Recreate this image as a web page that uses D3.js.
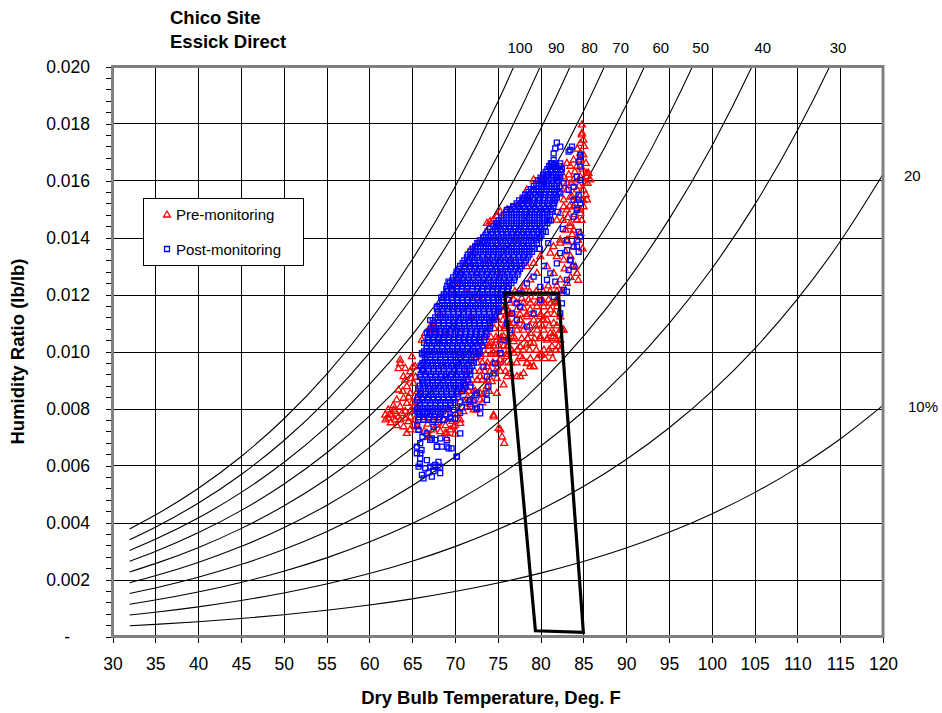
<!DOCTYPE html>
<html lang="en">
<head>
<meta charset="UTF-8">
<title>Chico Site - Essick Direct</title>
<style>
  body { margin: 0; background: #fff; }
  svg text { font-family: "Liberation Sans", Arial, sans-serif; fill: #000; }
  .grid line { stroke: #000; stroke-width: 1; shape-rendering: crispEdges; }
  .rh { fill: none; stroke: #000; stroke-width: 1.1; }
  .axis path { display: none; }
  .axis line { stroke: #000; shape-rendering: crispEdges; }
  .axis text { font-size: 17.5px; }
  .rhlabel { font-size: 15px; }
  .title { font-size: 18.5px; font-weight: bold; }
</style>
</head>
<body>
<div id="chart"></div>
<script src="https://cdn.jsdelivr.net/npm/d3@7/dist/d3.min.js"></script>
<script>
// dry bulb temps (F) and saturation pressure (psia) used for the RH curves
const tempF = [32, 35, 40, 45, 50, 55, 60, 65, 70, 75, 80, 85, 90, 95, 100, 105, 110, 115, 120];
const satPress = [0.08865, 0.09998, 0.12173, 0.14756, 0.17812, 0.21413, 0.25638, 0.30578, 0.36334,
  0.43016, 0.50745, 0.59659, 0.69904, 0.81643, 0.95052, 1.1032, 1.2767, 1.4731, 1.6951];
const baroPress = 14.696;
const rhLevels = [100, 90, 80, 70, 60, 50, 40, 30, 20, 10];
const rhLabels = ["100", "90", "80", "70", "60", "50", "40", "30", "20", "10%"];
// label nudge (px) from the curve end
const rhLabelDx = [7, 16, 20, 17, 17, 9, 11, 9, 21, 25];

const xTicks = d3.range(30, 121, 5);
const yTicks = [0, 2, 4, 6, 8, 10, 12, 14, 16, 18, 20];   // humidity ratio x 1000

// comfort zone box [T, W x1000]
const comfortZone = [[75.8, 12.05], [82.1, 12.05], [85.0, 0.15], [79.4, 0.2]];

// Pre-monitoring points [T, W x1000]
const preMon = [
  // left lobe
  [61.85,7.77],[62.24,7.66],[62.63,7.77],[63.02,7.6],[63.41,7.71],[63.8,7.83],[64.19,7.66],[64.58,7.54],
  [62.83,7.95],[63.6,8.06],[64.4,8.18],[64.0,8.36],[64.77,8.53],[63.41,8.65],[64.38,8.77],[65.16,8.88],
  [63.99,9.12],[64.77,9.29],[63.6,9.58],[64.19,9.41],[65.36,9.47],[64.97,9.82],[65.75,7.25],[64.77,7.25],
  [64.38,7.13],[65.16,7.42],[65.5,7.95],[65.0,8.2],[62.2,7.95],[61.9,7.6],[63.2,8.3],[64.8,7.9],
  [65.6,8.6],[65.4,9.1],[63.4,9.4],[62.8,8.1],[64.0,7.36],[65.56,7.36],[66.33,7.6],[63.6,9.7],[65.1,9.46],
  [62.5,7.5],[63.0,7.9],[63.6,7.6],[64.2,7.9],[64.8,7.7],[65.3,7.6],[65.3,8.1],[64.6,8.4],[63.9,8.6],
  [64.2,9.0],[64.9,9.05],[65.5,8.35],[63.2,7.4],[62.4,7.8],
  // lower strip
  [66.72,7.13],[67.5,7.25],[68.28,7.19],[68.86,7.13],[69.45,7.25],[70.03,7.42],[70.62,7.6],[70.23,7.77],
  [71.0,7.89],[71.4,8.06],[68.67,7.6],[67.89,7.42],[69.25,7.95],[67.11,7.77],[68.28,7.83],[70.62,8.24],
  [72.17,8.24],[72.95,8.53],[73.73,8.77],[74.3,8.94],[74.9,9.06],[75.68,8.83],[74.51,7.77],[75.1,7.3],
  [75.5,7.0],[75.76,6.78],[67.0,7.0],[69.0,6.95],[70.0,7.1],[71.5,8.4],[72.5,7.95],[73.2,8.2],
  [69.06,7.13],[69.84,7.36],[70.62,7.48],[72.18,7.95],[72.96,8.3],[74.52,7.71],[75.3,7.25],[74.9,8.53],
  [72.95,9.12],[71.8,8.88],[71.0,8.65],[71.8,9.7],[72.56,9.94],[73.34,10.17],
  [66.8,7.45],[67.4,7.6],[68.0,7.5],[68.9,7.4],[69.7,7.55],[70.4,7.95],[71.1,8.2],[71.8,8.15],
  [72.4,8.6],[73.3,8.5],[74.0,8.6],[66.4,7.2],
  // band right of the core
  [72.3,9.3],[72.9,9.3],[73.5,9.3],[74.1,9.3],[74.7,9.3],[75.3,9.3],[75.9,9.3],
  [72.6,9.6],[73.2,9.6],[73.8,9.6],[74.4,9.6],[75.0,9.6],[75.6,9.6],[76.5,9.6],[77.2,9.6],
  [73.0,9.9],[73.6,9.9],[74.2,9.9],[74.8,9.9],[75.4,9.9],[76.0,9.9],
  [73.3,10.2],[73.9,10.2],[74.5,10.2],[75.1,10.2],[75.7,10.2],
  [73.6,10.5],[74.2,10.5],[74.8,10.5],[75.4,10.5],
  [74.0,10.8],[74.6,10.8],[75.2,10.8],[75.8,10.8],
  [74.4,11.1],[75.0,11.1],[75.6,11.1],[76.2,11.1],[75.0,11.4],[75.6,11.4],[76.2,11.4],
  [71.4,9.0],[72.0,9.0],[72.6,9.0],[73.2,9.0],[73.8,9.0],[71.0,8.6],[71.6,8.6],[72.2,8.6],
  // lobe under the box top
  [76.07,9.12],[77.63,9.12],[78.41,9.59],[79.19,9.47],[79.97,9.88],[81.14,9.94],[82.3,10.05],[81.92,10.4],
  [81.53,10.64],[82.3,10.75],[78.8,10.29],[76.85,10.52],[75.3,10.4],[74.13,10.29],[72.96,9.82],[71.4,9.35],
  [67.11,10.75],[80.36,11.1],[77.63,11.1],[76.07,10.87],
  [73.73,9.47],[74.51,9.58],[75.29,9.7],[76.07,9.82],[76.85,9.94],[77.63,9.82],[78.41,9.58],[79.19,9.47],
  [80.16,9.88],[82.1,10.17],[79.19,10.29],[78.4,10.23],[77.6,10.17],[76.85,10.35],[76.07,10.17],
  [75.29,10.05],[74.5,9.94],[74.12,10.17],[74.9,10.4],[75.68,10.52],[76.46,10.64],[77.24,10.75],
  [78.02,10.75],[78.8,10.64],[79.6,10.75],[80.36,10.75],[81.14,10.64],[81.5,10.52],[82.3,10.4],
  [82.5,10.75],[79.97,10.52],[76.85,10.99],[77.63,11.1],[78.4,11.22],[79.19,11.1],[79.97,11.22],
  [80.75,11.1],[81.53,10.99],[76.46,11.34],[77.24,11.46],[78.02,11.52],[78.8,11.46],[79.58,11.57],
  [80.36,11.57],[81.14,11.46],[81.9,11.57],[76.85,11.81],[77.8,11.86],[78.6,11.81],[79.4,11.92],
  [80.16,11.81],[80.94,11.81],[81.72,11.75],[82.3,11.22],[82.7,10.75],[80.75,10.4],[81.33,10.17],
  [76.46,9.23],[77.24,9.12],[78.02,9.23],[78.8,9.47],[75.9,11.6],[76.2,10.2],
  [77.9,9.75],[78.8,9.75],[79.6,9.75],[80.5,9.75],[81.4,9.75],
  [76.6,10.05],[77.3,10.05],[78.0,10.05],[78.7,10.05],[79.5,10.05],[80.4,10.05],[81.0,10.05],[81.8,10.05],
  [76.2,10.45],[77.0,10.45],[77.8,10.45],[78.5,10.45],[79.3,10.45],[80.0,10.45],[80.8,10.45],[81.7,10.45],
  [75.8,10.9],[76.5,10.9],[77.2,10.9],[78.0,10.9],[78.7,10.9],[79.4,10.9],[80.2,10.9],[81.0,10.9],[81.9,10.9],
  [76.0,11.3],[76.8,11.3],[77.6,11.3],[78.4,11.3],[79.2,11.3],[80.0,11.3],[80.8,11.3],[81.6,11.3],
  [76.4,11.7],[77.2,11.7],[78.0,11.7],[78.8,11.7],[79.6,11.7],[80.4,11.7],[81.2,11.7],[82.0,11.7],
  [77.0,12.1],[77.9,12.1],[78.7,12.1],[79.5,12.1],[80.3,12.1],[81.1,12.1],[81.9,12.1],
  // mixed area right of the core and top right
  [78.02,12.27],[78.8,12.51],[79.58,12.74],[78.41,12.98],[79.19,13.09],[79.97,13.33],[80.75,12.98],
  [81.53,12.74],[82.3,12.51],[83.08,12.39],[81.14,13.45],[81.9,13.33],[82.7,13.21],[83.5,13.33],
  [84.06,12.98],[84.25,12.74],[82.3,13.8],[83.08,13.91],[83.86,13.68],[84.64,14.15],[83.47,14.38],
  [84.25,14.62],[84.64,14.85],[85.03,15.08],[85.42,15.32],[83.86,15.08],[83.08,14.97],[82.7,15.32],
  [83.47,15.43],[84.25,15.67],[85.03,15.67],[85.81,16.02],[85.42,16.25],[84.64,16.13],[83.86,16.02],
  [83.08,15.9],[82.3,15.78],[82.7,16.13],[83.47,16.5],[84.25,16.5],[84.64,16.72],[84.64,16.95],
  [84.64,17.3],[84.84,17.66],[84.84,17.95],[83.86,16.72],[83.08,16.6],[81.9,16.5],
  [83.1,15.67],[83.67,15.43],[84.06,15.2],[84.64,14.97],[84.25,14.61],[83.47,14.5],[83.86,14.26],
  [84.64,14.15],[85.42,16.14],[85.6,16.25],[85.2,15.9],[82.7,15.08],[82.3,14.85],[81.9,14.61],
  [82.9,14.26],[82.3,13.91],[81.5,13.68],[83.1,13.85],[85.0,17.42],[84.8,17.6],[85.3,15.5],[84.9,13.6],
  [83.3,16.2],[84.0,16.3],[84.9,16.4],[85.5,15.9],[84.5,15.8],[83.6,15.9],[84.2,15.4],[85.0,15.3],
  [83.4,15.1],[84.0,14.8],[84.8,14.6],[83.2,14.7],[82.6,14.6],[83.7,14.1],[84.4,13.9],[82.9,13.5],
  [83.7,13.0],[84.4,12.5],[83.5,12.6],[82.8,12.9],[81.9,12.3],[82.5,12.1],[80.9,12.3],[85.3,16.6],
  [85.0,16.9],[84.3,17.1],[85.1,17.2],
  // upper-left fringe of the cloud
  [67.11,10.87],[66.53,10.64],[66.14,10.4],[67.36,10.81],[67.7,10.87],[67.89,10.64],[68.28,11.34],
  [69.45,12.04],[70.23,12.51],[70.62,12.74],[71.78,13.56],[72.76,13.85],[73.73,14.5],[74.51,14.62],
  [74.9,14.73],[76.07,14.97],[77.24,15.08],[77.8,15.32],[78.41,15.32],[79.19,16.02],[79.97,16.02],
  [80.5,16.1],[78.4,15.67],[77.0,15.08],[75.3,14.9],[74.1,14.56],[72.2,13.44],[71.2,13.1],
  [70.6,12.39],[71.78,12.98],
  // inside the core
  [70.62,10.64],[71.8,11.22],[72.95,11.8],[74.12,12.27],[75.29,12.74],[76.46,13.21],[72.56,12.74],
  [71.4,12.04],[69.84,11.57],[69.06,10.64],[70.62,9.94],[68.67,9.47],[73.73,13.21],[75.29,13.68],
  [77.24,13.91],[76.07,12.27]
];

// Post-monitoring dense core, one row per humidity ratio: [W x1000, [T ...]]
const postCore = [
  [7.6, [65.7,66.3,66.9,67.5,68.1]],
  [7.7, [65.8,66.4,67.0,67.6,68.2]],
  [7.8, [65.9,66.5,67.1,67.7,68.3,68.9]],
  [7.9, [65.6,66.2,66.8,67.4,68.0,68.6]],
  [8.0, [65.6,66.2,66.8,67.4,68.0,68.6,69.2]],
  [8.1, [65.9,66.5,67.1,67.7,68.3,68.9,69.5]],
  [8.2, [65.9,66.5,67.1,67.7,68.3,68.9,69.5,70.0]],
  [8.3, [65.6,66.2,66.8,67.4,68.0,68.6,69.2,69.8]],
  [8.4, [65.7,66.3,66.9,67.5,68.1,68.7,69.3,69.9,70.4]],
  [8.5, [66.0,66.6,67.2,67.8,68.4,69.0,69.6,70.2]],
  [8.6, [66.0,66.6,67.2,67.8,68.4,69.0,69.6,70.2,70.8]],
  [8.7, [65.7,66.3,66.9,67.5,68.1,68.7,69.3,69.9,70.5,71.0]],
  [8.8, [65.9,66.5,67.1,67.7,68.3,68.9,69.5,70.1,70.7,71.2]],
  [8.9, [66.2,66.8,67.4,68.0,68.6,69.2,69.8,70.4,71.0]],
  [9.0, [66.2,66.8,67.4,68.0,68.6,69.2,69.8,70.4,71.0,71.5]],
  [9.1, [65.9,66.5,67.1,67.7,68.3,68.9,69.5,70.1,70.7,71.3]],
  [9.2, [66.0,66.6,67.2,67.8,68.4,69.0,69.6,70.2,70.8,71.4,71.8]],
  [9.3, [66.3,66.9,67.5,68.1,68.7,69.3,69.9,70.5,71.1,71.7]],
  [9.4, [66.3,66.9,67.5,68.1,68.7,69.3,69.9,70.5,71.1,71.7]],
  [9.5, [66.0,66.6,67.2,67.8,68.4,69.0,69.6,70.2,70.8,71.4,72.0]],
  [9.6, [66.2,66.8,67.4,68.0,68.6,69.2,69.8,70.4,71.0,71.6,72.2]],
  [9.7, [66.5,67.1,67.7,68.3,68.9,69.5,70.1,70.7,71.3,71.9]],
  [9.8, [66.5,67.1,67.7,68.3,68.9,69.5,70.1,70.7,71.3,71.9,72.5]],
  [9.9, [66.2,66.8,67.4,68.0,68.6,69.2,69.8,70.4,71.0,71.6,72.2,72.7]],
  [10.0, [66.4,67.0,67.6,68.2,68.8,69.4,70.0,70.6,71.2,71.8,72.4,72.9]],
  [10.1, [66.7,67.3,67.9,68.5,69.1,69.7,70.3,70.9,71.5,72.1,72.7]],
  [10.2, [66.7,67.3,67.9,68.5,69.1,69.7,70.3,70.9,71.5,72.1,72.7,73.2]],
  [10.3, [66.4,67.0,67.6,68.2,68.8,69.4,70.0,70.6,71.2,71.8,72.4,73.0]],
  [10.4, [66.8,67.4,68.0,68.6,69.2,69.8,70.4,71.0,71.6,72.2,72.8,73.4]],
  [10.5, [66.9,67.5,68.1,68.7,69.3,69.9,70.5,71.1,71.7,72.3,72.9,73.5]],
  [10.6, [67.1,67.7,68.3,68.9,69.5,70.1,70.7,71.3,71.9,72.5,73.1,73.7]],
  [10.7, [67.0,67.6,68.2,68.8,69.4,70.0,70.6,71.2,71.8,72.4,73.0,73.6]],
  [10.8, [67.2,67.8,68.4,69.0,69.6,70.2,70.8,71.4,72.0,72.6,73.2,73.8,74.1]],
  [10.9, [67.5,68.1,68.7,69.3,69.9,70.5,71.1,71.7,72.3,72.9,73.5,74.1]],
  [11.0, [67.5,68.1,68.7,69.3,69.9,70.5,71.1,71.7,72.3,72.9,73.5,74.1]],
  [11.1, [67.4,68.0,68.6,69.2,69.8,70.4,71.0,71.6,72.2,72.8,73.4,74.0,74.5]],
  [11.2, [67.7,68.3,68.9,69.5,70.1,70.7,71.3,71.9,72.5,73.1,73.7,74.3,74.7]],
  [11.3, [68.0,68.6,69.2,69.8,70.4,71.0,71.6,72.2,72.8,73.4,74.0,74.6]],
  [11.4, [68.0,68.6,69.2,69.8,70.4,71.0,71.6,72.2,72.8,73.4,74.0,74.6,75.1]],
  [11.5, [67.9,68.5,69.1,69.7,70.3,70.9,71.5,72.1,72.7,73.3,73.9,74.5,75.1]],
  [11.6, [68.2,68.8,69.4,70.0,70.6,71.2,71.8,72.4,73.0,73.6,74.2,74.8,75.4]],
  [11.7, [68.5,69.1,69.7,70.3,70.9,71.5,72.1,72.7,73.3,73.9,74.5,75.1]],
  [11.8, [68.5,69.1,69.7,70.3,70.9,71.5,72.1,72.7,73.3,73.9,74.5,75.1,75.7]],
  [11.9, [68.4,69.0,69.6,70.2,70.8,71.4,72.0,72.6,73.2,73.8,74.4,75.0,75.6]],
  [12.0, [68.7,69.3,69.9,70.5,71.1,71.7,72.3,72.9,73.5,74.1,74.7,75.3,75.9]],
  [12.1, [69.0,69.6,70.2,70.8,71.4,72.0,72.6,73.2,73.8,74.4,75.0,75.6,76.1]],
  [12.2, [69.0,69.6,70.2,70.8,71.4,72.0,72.6,73.2,73.8,74.4,75.0,75.6,76.2]],
  [12.3, [69.1,69.7,70.3,70.9,71.5,72.1,72.7,73.3,73.9,74.5,75.1,75.7,76.3]],
  [12.4, [69.4,70.0,70.6,71.2,71.8,72.4,73.0,73.6,74.2,74.8,75.4,76.0,76.6]],
  [12.5, [69.7,70.3,70.9,71.5,72.1,72.7,73.3,73.9,74.5,75.1,75.7,76.3,76.9]],
  [12.6, [69.8,70.4,71.0,71.6,72.2,72.8,73.4,74.0,74.6,75.2,75.8,76.4,77.0]],
  [12.7, [70.1,70.7,71.3,71.9,72.5,73.1,73.7,74.3,74.9,75.5,76.1,76.7,77.3]],
  [12.8, [70.2,70.8,71.4,72.0,72.6,73.2,73.8,74.4,75.0,75.6,76.2,76.8,77.4]],
  [12.9, [70.5,71.1,71.7,72.3,72.9,73.5,74.1,74.7,75.3,75.9,76.5,77.1,77.6]],
  [13.0, [70.6,71.2,71.8,72.4,73.0,73.6,74.2,74.8,75.4,76.0,76.6,77.2,77.8]],
  [13.1, [70.9,71.5,72.1,72.7,73.3,73.9,74.5,75.1,75.7,76.3,76.9,77.5,78.1]],
  [13.2, [71.1,71.7,72.3,72.9,73.5,74.1,74.7,75.3,75.9,76.5,77.1,77.7,78.3]],
  [13.3, [71.4,72.0,72.6,73.2,73.8,74.4,75.0,75.6,76.2,76.8,77.4,78.0,78.5]],
  [13.4, [71.5,72.1,72.7,73.3,73.9,74.5,75.1,75.7,76.3,76.9,77.5,78.1,78.7]],
  [13.5, [71.8,72.4,73.0,73.6,74.2,74.8,75.4,76.0,76.6,77.2,77.8,78.4,79.0]],
  [13.6, [72.1,72.7,73.3,73.9,74.5,75.1,75.7,76.3,76.9,77.5,78.1,78.7,79.2]],
  [13.7, [72.4,73.0,73.6,74.2,74.8,75.4,76.0,76.6,77.2,77.8,78.4,79.0]],
  [13.8, [72.6,73.2,73.8,74.4,75.0,75.6,76.2,76.8,77.4,78.0,78.6,79.2,79.6]],
  [13.9, [72.9,73.5,74.1,74.7,75.3,75.9,76.5,77.1,77.7,78.3,78.9,79.5]],
  [14.0, [73.3,73.9,74.5,75.1,75.7,76.3,76.9,77.5,78.1,78.7,79.3,79.9]],
  [14.1, [73.6,74.2,74.8,75.4,76.0,76.6,77.2,77.8,78.4,79.0,79.6,80.1]],
  [14.2, [73.8,74.4,75.0,75.6,76.2,76.8,77.4,78.0,78.6,79.2,79.8,80.3]],
  [14.3, [74.1,74.7,75.3,75.9,76.5,77.1,77.7,78.3,78.9,79.5,80.1]],
  [14.4, [74.5,75.1,75.7,76.3,76.9,77.5,78.1,78.7,79.3,79.9,80.5]],
  [14.5, [74.8,75.4,76.0,76.6,77.2,77.8,78.4,79.0,79.6,80.2,80.8]],
  [14.6, [75.1,75.7,76.3,76.9,77.5,78.1,78.7,79.3,79.9,80.5,81.0]],
  [14.7, [75.4,76.0,76.6,77.2,77.8,78.4,79.0,79.6,80.2,80.8]],
  [14.8, [75.7,76.3,76.9,77.5,78.1,78.7,79.3,79.9,80.5,81.1]],
  [14.9, [76.0,76.6,77.2,77.8,78.4,79.0,79.6,80.2,80.8,81.3]],
  [15.0, [76.4,77.0,77.6,78.2,78.8,79.4,80.0,80.6,81.2]],
  [15.1, [76.8,77.4,78.0,78.6,79.2,79.8,80.4,81.0,81.5]],
  [15.2, [77.2,77.8,78.4,79.0,79.6,80.2,80.8,81.4]],
  [15.3, [77.5,78.1,78.7,79.3,79.9,80.5,81.1,81.7]],
  [15.4, [77.9,78.5,79.1,79.7,80.3,80.9,81.5,81.9]],
  [15.5, [78.2,78.8,79.4,80.0,80.6,81.2,81.8]],
  [15.6, [78.6,79.2,79.8,80.4,81.0,81.6,82.1]],
  [15.7, [78.9,79.5,80.1,80.7,81.3,81.9]],
  [15.8, [79.2,79.8,80.4,81.0,81.6,82.2]],
  [15.9, [79.5,80.1,80.7,81.3,81.9]],
  [16.0, [79.7,80.3,80.9,81.5,82.1]],
  [16.1, [80.0,80.6,81.2,81.8,82.3]],
  [16.2, [80.3,80.9,81.5,82.1]],
  [16.3, [80.6,81.2,81.8,82.4]],
  [16.4, [80.8,81.4,82.0,82.5]],
  [16.5, [81.0,81.6,82.2]],
  [16.6, [81.2,81.8,82.3]]
];

// Post-monitoring scattered points around the core [T, W x1000]
const postScatter = [
  [65.75,5.96],[66.14,5.67],[66.53,5.9],[67.11,5.96],[67.7,6.02],[68.08,6.13],[65.94,6.25],[66.72,6.19],
  [67.3,5.61],[66.33,5.55],[68.28,5.96],[66.9,5.75],[67.5,5.8],[65.9,6.05],
  [67.9,6.66],[68.5,6.66],[69.25,6.6],[69.6,6.6],[70.2,6.31],[69.06,6.9],[67.3,6.95],[67.7,6.9],[68.3,6.95],
  [66.7,7.13],[65.75,7.25],[66.1,6.54],[65.55,6.43],[65.94,6.78],[69.45,7.65],[70.03,7.65],[70.6,7.85],
  [72.17,8.3],[72.56,8.0],[72.95,7.83],[71.8,8.06],[73.7,8.53],[73.9,8.77],[72.4,8.47],[66.2,7.0],[65.6,7.4],
  [71.2,8.3],[70.8,8.05],[65.55,6.66],[65.95,6.43],[67.5,5.96],[68.28,5.73],[67.11,6.9],[67.89,6.66],
  [69.06,6.66],[70.23,6.31],[70.62,7.13],[69.84,7.95],[69.45,7.71],[68.67,7.6],[67.5,7.36],[71.79,8.3],
  [72.96,8.06],[73.74,8.3],[72.57,8.53],[71.79,8.77],[71.0,8.88],[66.72,7.83],
  [69.25,12.45],[69.64,12.33],[70.6,12.68],[71.78,13.33],[72.37,13.68],[73.34,13.8],[73.73,13.91],
  [74.9,14.38],[74.9,14.5],[76.07,14.97],[76.85,15.08],[78.02,15.32],[78.41,15.43],[79.19,15.67],
  [80.36,15.78],[80.16,16.02],[80.75,16.19],[81.14,16.37],[81.33,16.6],[81.53,16.95],[81.72,17.13],
  [81.9,17.33],[82.3,17.19],[83.47,17.07],[83.67,17.19],[84.45,16.66],[84.64,16.84],[81.53,16.72],
  [81.33,16.49],[82.3,16.37],[81.9,16.13],[83.28,17.01],[84.64,16.9],[84.64,16.02],
  [66.33,9.58],[66.14,9.35],[66.33,8.88],[65.94,8.53],[65.75,7.83],[66.14,9.94],[66.72,10.64],
  [67.11,11.1],[67.89,11.57],[68.67,11.92],
  [83.86,15.32],[84.25,14.97],[84.45,15.32],[83.86,14.73],[84.45,14.2],[84.25,13.91],[83.86,13.68],
  [84.45,13.5],[83.47,13.21],[83.86,12.98],[83.28,12.86],[83.08,12.51],[82.7,12.16],[83.08,12.1],
  [82.5,11.69],[82.3,11.34],[82.7,15.9],[83.28,15.67],[82.3,15.55],[83.86,15.78],[84.25,16.13],
  [84.64,16.49],[83.08,13.91],[82.3,13.45],[81.9,13.09],[81.14,12.74],[80.75,12.51],[79.97,12.27],
  [81.72,12.45],[79.19,12.63],[78.41,12.39],[77.63,12.04],[77.24,11.69],[76.27,11.81],[76.66,11.34],
  [77.63,11.57],[77.24,11.1],[76.46,10.75],[75.68,10.4],[75.29,9.94],[74.7,9.58],[76.07,10.99],
  [78.41,10.87],[79.19,11.34],[79.97,11.81],[81.53,11.92],[74.51,9.23],[73.34,9.47],[73.73,9.12],
  [83.1,13.56],[83.5,13.21],[84.6,14.03],[84.25,13.68],[84.45,15.49],[84.64,15.2],[84.25,15.02],
  [80.6,14.2],[81.2,14.6],[80.9,13.8],[79.9,13.6],[80.4,13.0],[82.0,14.9],[82.6,14.3],[81.6,15.2]
];

const width = 942, height = 713;
const plot = { left: 112.5, right: 883, top: 66.5, bottom: 636.5 };

const x = d3.scaleLinear().domain([30, 120]).range([plot.left, plot.right]);
const y = d3.scaleLinear().domain([0, 20]).range([plot.bottom, plot.top]);

const svg = d3.select("#chart").append("svg")
  .attr("width", width)
  .attr("height", height);

svg.append("defs").append("clipPath").attr("id", "plotClip")
  .append("rect")
  .attr("x", plot.left).attr("y", plot.top)
  .attr("width", plot.right - plot.left).attr("height", plot.bottom - plot.top);

// grid
const grid = svg.append("g").attr("class", "grid");
grid.selectAll(".vg").data(xTicks.slice(1, -1)).join("line")
  .attr("x1", d => Math.round(x(d)) + 0.5).attr("x2", d => Math.round(x(d)) + 0.5)
  .attr("y1", plot.top).attr("y2", plot.bottom);
grid.selectAll(".hg").data(yTicks.slice(1, -1)).join("line")
  .attr("x1", plot.left).attr("x2", plot.right)
  .attr("y1", d => Math.round(y(d)) + 0.5).attr("y2", d => Math.round(y(d)) + 0.5);

// RH curves: W = 0.622 * phi * Ps / (P - Ps)
const rhData = rhLevels.map((rh, i) => ({
  rh: rh,
  label: rhLabels[i],
  dx: rhLabelDx[i],
  pts: tempF.map((t, j) => [t, 622 * (rh / 100) * satPress[j] / (baroPress - satPress[j])])
}));

const line = d3.line().x(d => x(d[0])).y(d => y(d[1])).curve(d3.curveMonotoneX);

svg.append("g").attr("clip-path", "url(#plotClip)")
  .selectAll("path").data(rhData).join("path")
  .attr("class", "rh")
  .attr("d", d => line(d.pts));

// labels at curve ends
rhData.forEach(c => {
  const last = c.pts[c.pts.length - 1];
  if (last[1] <= 20) {
    svg.append("text").attr("class", "rhlabel")
      .attr("x", plot.right + c.dx).attr("y", y(last[1]) + 7)
      .text(c.label);
  } else {
    let tx = last[0];
    for (let k = 1; k < c.pts.length; k++) {
      const a = c.pts[k - 1], b = c.pts[k];
      if (a[1] <= 20 && b[1] > 20) { tx = a[0] + (20 - a[1]) / (b[1] - a[1]) * (b[0] - a[0]); break; }
    }
    svg.append("text").attr("class", "rhlabel")
      .attr("x", x(tx) + c.dx).attr("y", 53)
      .attr("text-anchor", "middle")
      .text(c.label);
  }
});

// scatter
const tri = d3.symbol().type(d3.symbolTriangle).size(21);
const sq = d3.symbol().type(d3.symbolSquare).size(25);

svg.append("g").attr("clip-path", "url(#plotClip)")
  .selectAll("path").data(preMon).join("path")
  .attr("d", tri)
  .attr("transform", d => `translate(${x(d[0])},${y(d[1])})`)
  .attr("fill", "none").attr("stroke", "#ff0000").attr("stroke-width", 1.3);

const postMon = [];
postCore.forEach(r => r[1].forEach(t => postMon.push([t, r[0]])));
postScatter.forEach(p => postMon.push(p));

svg.append("g").attr("clip-path", "url(#plotClip)")
  .selectAll("path").data(postMon).join("path")
  .attr("d", sq)
  .attr("transform", d => `translate(${x(d[0])},${y(d[1])})`)
  .attr("fill", "none").attr("stroke", "#0000ff").attr("stroke-width", 1.3);

// comfort box
svg.append("path")
  .datum(comfortZone)
  .attr("d", d3.line().x(d => x(d[0])).y(d => y(d[1])).curve(d3.curveLinearClosed))
  .attr("fill", "none").attr("stroke", "#000").attr("stroke-width", 3.2)
  .attr("stroke-linejoin", "miter");

// frame
svg.append("rect")
  .attr("x", plot.left).attr("y", plot.top)
  .attr("width", plot.right - plot.left).attr("height", plot.bottom - plot.top)
  .attr("fill", "none").attr("stroke", "#808080").attr("stroke-width", 3);

// axes
svg.append("g").attr("class", "axis")
  .attr("transform", `translate(0,${plot.bottom + 1.5})`)
  .call(d3.axisBottom(x).tickValues(xTicks).tickSize(5).tickPadding(15).tickFormat(d3.format("d")));

svg.append("g").attr("class", "axis")
  .attr("transform", `translate(${plot.left - 1.5},0)`)
  .call(d3.axisLeft(y).tickValues(d3.range(0, 20.01, 0.4)).tickSize(5).tickFormat(""));

const yAxis = svg.append("g").attr("class", "axis")
  .attr("transform", `translate(${plot.left - 1.5},0)`)
  .call(d3.axisLeft(y).tickValues(yTicks).tickSize(5).tickPadding(16)
    .tickFormat(d => d === 0 ? "-" : (d / 1000).toFixed(3)));
yAxis.selectAll(".tick").filter(d => d === 0).select("text").attr("dx", -20);

// titles
svg.append("text").attr("class", "title").attr("x", 170).attr("y", 24).text("Chico Site");
svg.append("text").attr("class", "title").attr("x", 170).attr("y", 48).text("Essick Direct");

svg.append("text").attr("class", "title")
  .attr("x", 491).attr("y", 704)
  .attr("text-anchor", "middle")
  .text("Dry Bulb Temperature, Deg. F");

svg.append("text").attr("class", "title")
  .attr("transform", `translate(24,${(plot.top + plot.bottom) / 2}) rotate(-90)`)
  .attr("text-anchor", "middle")
  .text("Humidity Ratio (lb/lb)");

// legend
const lg = svg.append("g");
lg.append("rect").attr("x", 143.5).attr("y", 198.5).attr("width", 160).attr("height", 67)
  .attr("fill", "#fff").attr("stroke", "#000").attr("stroke-width", 1);
lg.append("path").attr("d", tri).attr("transform", "translate(167,215)")
  .attr("fill", "none").attr("stroke", "#ff0000").attr("stroke-width", 1.3);
lg.append("path").attr("d", sq).attr("transform", "translate(167,249)")
  .attr("fill", "none").attr("stroke", "#0000ff").attr("stroke-width", 1.3);
lg.append("text").attr("x", 176).attr("y", 220).style("font-size", "15px").text("Pre-monitoring");
lg.append("text").attr("x", 176).attr("y", 255).style("font-size", "15px").text("Post-monitoring");
</script>
</body>
</html>
